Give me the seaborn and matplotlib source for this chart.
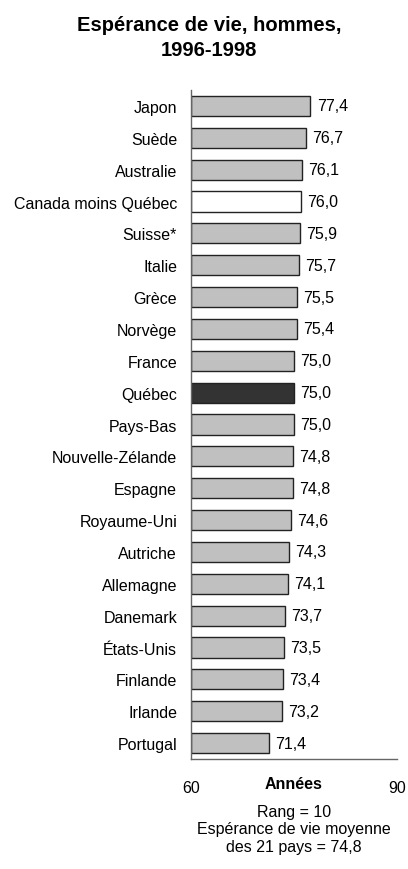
import matplotlib
matplotlib.use("Agg")
import matplotlib.pyplot as plt
import matplotlib.transforms as mtransforms
import seaborn as sns
import pandas as pd

countries = ["Japon", "Suède", "Australie", "Canada moins Québec", "Suisse*", "Italie",
             "Grèce", "Norvège", "France", "Québec", "Pays-Bas", "Nouvelle-Zélande",
             "Espagne", "Royaume-Uni", "Autriche", "Allemagne", "Danemark", "États-Unis",
             "Finlande", "Irlande", "Portugal"]
values = [77.4, 76.7, 76.1, 76.0, 75.9, 75.7, 75.5, 75.4, 75.0, 75.0, 75.0, 74.8,
          74.8, 74.6, 74.3, 74.1, 73.7, 73.5, 73.4, 73.2, 71.4]
x_ticks = [60, 90]
x_tick_labels = ["60", "90"]
title = "Espérance de vie, hommes,\n1996-1998"
xlabel = "Années"
note = "Rang = 10\nEspérance de vie moyenne\ndes 21 pays = 74,8"

sns.set_theme(style="white")
plt.rcParams['font.family'] = ['Liberation Sans', 'DejaVu Sans']
plt.rcParams['text.color'] = 'black'
plt.rcParams['xtick.color'] = 'black'
plt.rcParams['ytick.color'] = 'black'
plt.rcParams['axes.labelcolor'] = 'black'

df = pd.DataFrame({"pays": countries, "valeur": values})
colors = []
for c in countries:
    if c == "Québec":
        colors.append("#333333")
    elif c == "Canada moins Québec":
        colors.append("#FFFFFF")
    else:
        colors.append("#C0C0C0")

fig = plt.figure(figsize=(4.08, 8.70), dpi=100)
ax = fig.add_axes([0.468, 0.1264, 0.505, 0.769])

sns.barplot(data=df, x="valeur", y="pays", hue="pays", palette=colors, legend=False,
            orient="h", width=0.63, edgecolor="#222222", linewidth=1.0, ax=ax)
for p in ax.patches:
    p.set_x(60)
    p.set_width(p.get_width() - 60)

ax.set_xlim(60, 90)
ax.set_ylim(len(countries) - 0.5, -0.5)
ax.set_xticks(x_ticks)
ax.set_xticklabels(x_tick_labels, fontsize=11.5)
ax.set_xlabel("")
ax.set_ylabel("")
ax.tick_params(axis="y", length=0, labelsize=11.5, pad=10)
ax.tick_params(axis="x", length=4, direction="inout", pad=13, color="#444444")
for s in ["top", "right"]:
    ax.spines[s].set_visible(False)
for s in ["left", "bottom"]:
    ax.spines[s].set_color("#666666")
    ax.spines[s].set_linewidth(1.0)

for i, v in enumerate(values):
    ax.text(v + 0.9, i, f"{v:.1f}".replace(".", ","), va="center", ha="left", fontsize=11.5)

trans = mtransforms.blended_transform_factory(ax.transData, fig.transFigure)
ax.text(75, 1 - 785 / 870, xlabel, transform=trans, ha="center", va="center",
        fontsize=11.5, fontweight="bold")
ax.text(75, 1 - 830 / 870, note, transform=trans, ha="center", va="center",
        fontsize=11.5, linespacing=1.2)

fig.text(0.512, 1 - 38 / 870, title, ha="center", va="center", fontsize=14.5,
         fontweight="bold", linespacing=1.35)

fig.savefig("out.png", dpi=100)
